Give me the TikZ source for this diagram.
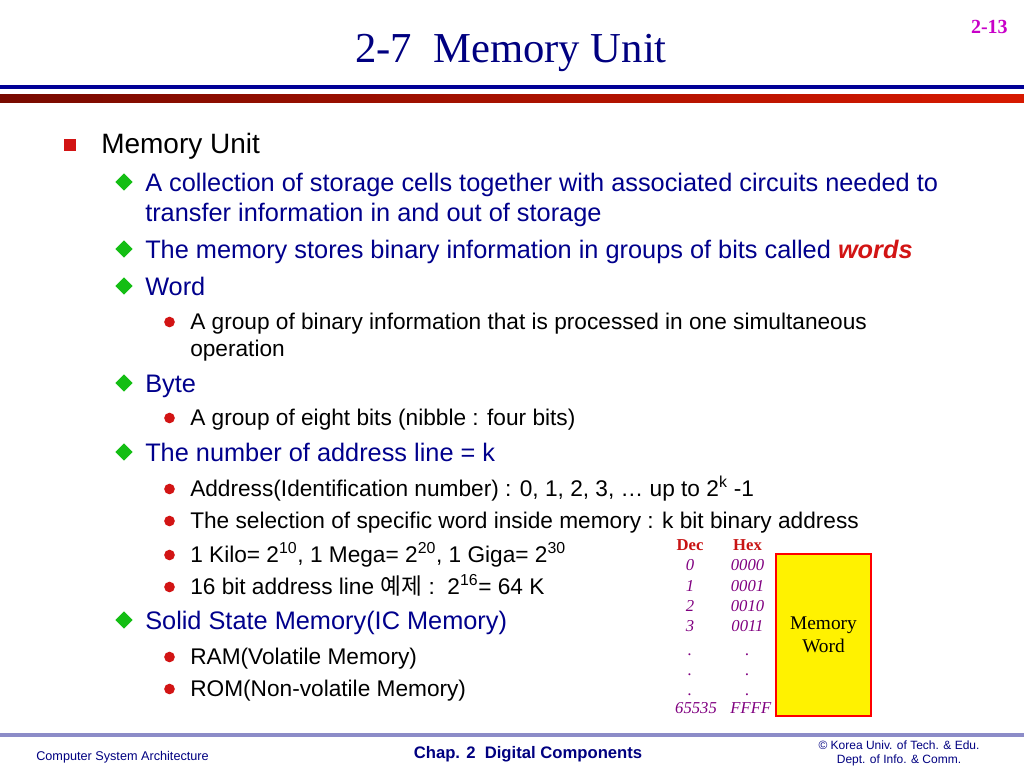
\documentclass[tikz,border=0pt]{standalone}
\usepackage{fontspec}
\setmainfont{Liberation Serif}
\setsansfont{Liberation Sans}
\newfontfamily\krfont{Noto Sans CJK KR}
\usetikzlibrary{shapes.geometric}
\definecolor{titleblue}{RGB}{0,0,128}
\definecolor{lineblue}{RGB}{0,0,150}
\definecolor{linered}{RGB}{215,25,0}
\definecolor{linedark}{RGB}{120,10,0}
\definecolor{itemblue}{RGB}{0,0,140}
\definecolor{bulletred}{RGB}{210,20,20}
\definecolor{bulletgreen}{RGB}{20,190,20}
\definecolor{pagepink}{RGB}{200,0,200}
\definecolor{tablered}{RGB}{200,20,20}
\definecolor{tablepurple}{RGB}{128,0,128}
\definecolor{footline}{RGB}{140,140,200}
\definecolor{foottext}{RGB}{0,0,128}

\begin{document}
\begin{tikzpicture}[x=0.75pt, y=-0.75pt, node distance=15.3pt,
	levelone/.style={anchor=base west, inner sep=0pt, font=\sffamily\fontsize{21}{25}\selectfont},
	leveltwo/.style={anchor=base west, inner sep=0pt, text=itemblue, font=\sffamily\fontsize{19}{23}\selectfont},
	levelthree/.style={anchor=base west, inner sep=0pt, font=\sffamily\fontsize{17}{20}\selectfont},
	sqmark/.style={fill=bulletred, minimum size=9pt, inner sep=0pt},
	diamark/.style={diamond, fill=bulletgreen, minimum size=13pt, inner sep=0pt},
	dotmark/.style={circle, fill=bulletred, minimum size=8pt, inner sep=0pt},
	hdrcell/.style={inner sep=0pt, text height=8.5pt, text depth=0.5pt, text=tablered, font=\bfseries\fontsize{12.5}{14}\selectfont},
	numcell/.style={inner sep=0pt, text height=8.5pt, text depth=0.5pt, text=tablepurple, font=\itshape\fontsize{12.5}{14}\selectfont},
	wordbox/.style={draw=red, fill=yellow, line width=1pt, minimum width=71.25pt, minimum height=121.5pt, align=center, font=\fontsize{14.5}{17.3}\selectfont},
	foot/.style={inner sep=0pt, text=foottext, font=\sffamily\fontsize{9.5}{10.5}\selectfont}]
				      \useasboundingbox (0,0) rectangle (1024,768);
				      \node (title)[anchor=base, inner sep=0pt, text=titleblue, font=\fontsize{32}{36}\selectfont] at (511,62) {2-7\ \ Memory Unit};
				      \node (page)[anchor=base east, inner sep=0pt, text=pagepink, font=\bfseries\fontsize{15}{17}\selectfont] at (1008,33) {2-13};
				      \fill[lineblue] (0,85) rectangle (1024,89);
				      \shade[left color=linedark, right color=linered] (0,94) rectangle (1024,102);
				      \node (m1)[sqmark] at (69.5,144.5) {};
				      \node (unit)[levelone] at (101,153) {Memory Unit};
				      \node (m2)[diamark] at (124,182) {};
				      \node (coll)[leveltwo] at (145,191) {A collection of storage cells together with associated circuits needed to};
				      \node (coll2)[leveltwo] at (145,221) {transfer information in and out of storage};
				      \node (m3)[diamark] at (124,249) {};
				      \node (stores)[leveltwo] at (145,258) {The memory stores binary information in groups of bits called \textcolor{bulletred}{\textbf{\textit{words}}}};
				      \node (m4)[diamark] at (124,286) {};
				      \node (word)[leveltwo] at (145,295) {Word};
				      \node (m5)[dotmark] at (169.5,322) {};
				      \node (group)[levelthree] at (190,329) {A group of binary information that is processed in one simultaneous};
				      \node (group2)[levelthree] at (190,356) {operation};
				      \node (m6)[diamark] at (124,383) {};
				      \node (byte)[leveltwo] at (145,392) {Byte};
				      \node (m7)[dotmark] at (169.5,418) {};
				      \node (eight)[levelthree] at (190,425) {A group of eight bits (nibble : four bits)};
				      \node (m8)[diamark] at (124,452) {};
				      \node (lines)[leveltwo] at (145,461) {The number of address line = k};
				      \node (m9)[dotmark] at (169.5,489) {};
				      \node (addr)[levelthree] at (190,496) {Address(Identification number) : 0, 1, 2, 3, … up to 2\textsuperscript{k} -1};
				      \node (m10)[dotmark] at (169.5,521) {};
				      \node (select)[levelthree] at (190,528) {The selection of specific word inside memory : k bit binary address};
				      \node (m11)[dotmark] at (169.5,555) {};
				      \node (kilo)[levelthree] at (190,562) {1 Kilo= 2\textsuperscript{10}, 1 Mega= 2\textsuperscript{20}, 1 Giga= 2\textsuperscript{30}};
				      \node (m12)[dotmark] at (169.5,587) {};
				      \node (sixteen)[levelthree] at (190,594) {16 bit address line {\krfont 예제} :\ \ 2\textsuperscript{16}= 64 K};
				      \node (m13)[diamark] at (124,620) {};
				      \node (solid)[leveltwo] at (145,629) {Solid State Memory(IC Memory)};
				      \node (m14)[dotmark] at (169.5,657) {};
				      \node (ram)[levelthree] at (190,664) {RAM(Volatile Memory)};
				      \node (m15)[dotmark] at (169.5,689) {};
				      \node (rom)[levelthree] at (190,696) {ROM(Non-volatile Memory)};
				      \node (dec)[hdrcell] at (690,545) {Dec};
				      \node (hex)[hdrcell] at (747.5,545) {Hex};
				      \node (d0)[numcell, below of = dec] {0};
				      \node (d1)[numcell, below of = d0] {1};
				      \node (d2)[numcell, below of = d1] {2};
				      \node (d3)[numcell, below of = d2] {3};
				      \node (d4)[numcell, below of = d3, yshift=-2pt] {.};
				      \node (d5)[numcell, below of = d4] {.};
				      \node (d6)[numcell, below of = d5] {.};
				      \node (d7)[numcell, below of = d6, xshift=4.5pt, yshift=2pt] {65535};
				      \node (h0)[numcell, below of = hex] {0000};
				      \node (h1)[numcell, below of = h0] {0001};
				      \node (h2)[numcell, below of = h1] {0010};
				      \node (h3)[numcell, below of = h2] {0011};
				      \node (h4)[numcell, below of = h3, yshift=-2pt] {.};
				      \node (h5)[numcell, below of = h4] {.};
				      \node (h6)[numcell, below of = h5] {.};
				      \node (h7)[numcell, below of = h6, xshift=2.5pt, yshift=2pt] {FFFF};
				      \node (memword)[wordbox] at (823.5,635) {Memory\\Word};
				      \fill[footline] (0,733) rectangle (1024,737);
				      \node (course)[foot, anchor=base west] at (36,760) {Computer System Architecture};
				      \node (chap)[foot, anchor=base, font=\sffamily\bfseries\fontsize{12.5}{14}\selectfont] at (528,758) {Chap. 2\ \ Digital Components};
				      \node (univ)[foot, align=center, font=\sffamily\fontsize{9}{10.5}\selectfont] at (899,753) {\copyright\ Korea Univ. of Tech. \& Edu.\\Dept. of Info. \& Comm.};
			      \end{tikzpicture}
\end{document}
